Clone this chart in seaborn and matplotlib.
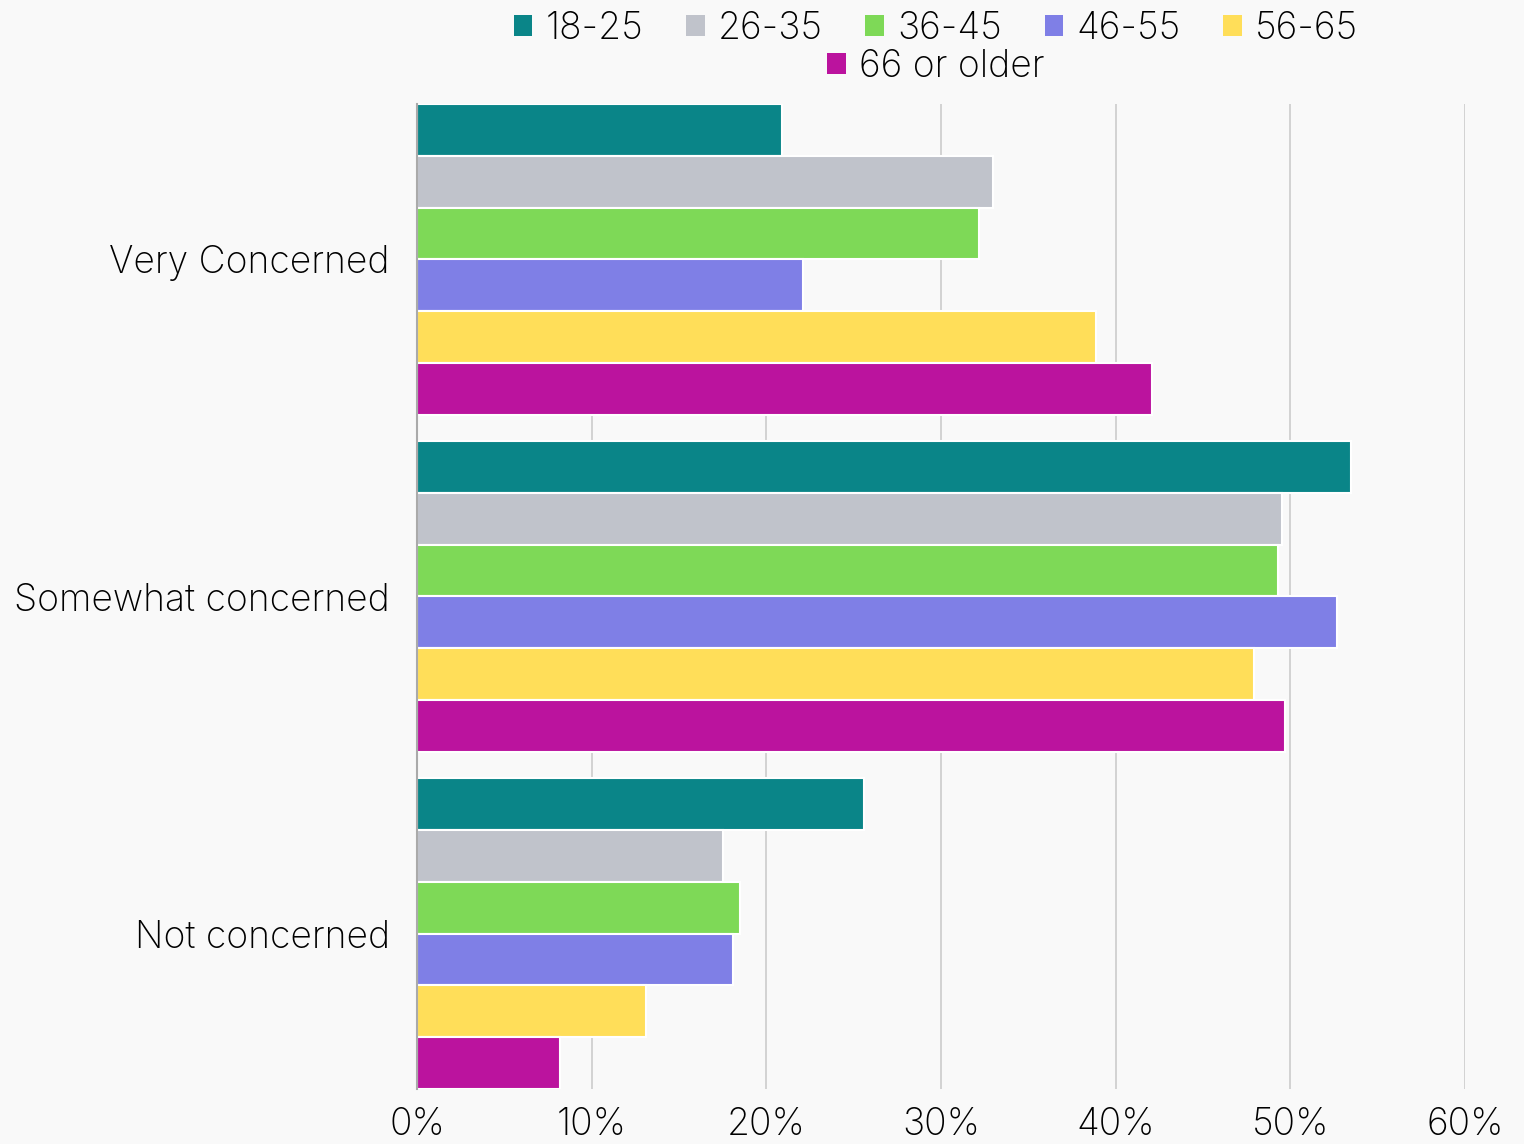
import matplotlib
matplotlib.use("Agg")
import matplotlib.pyplot as plt
from matplotlib.patches import Patch
import seaborn as sns
import pandas as pd

categories = ["Very Concerned", "Somewhat concerned", "Not concerned"]
age_groups = ["18-25", "26-35", "36-45", "46-55", "56-65", "66 or older"]
colors = ["#0a8588", "#c0c3cb", "#7ed957", "#7f7fe6", "#ffde59", "#bb139e"]

# percentage per concern level, one list per age group
share_18_25 = [20.9, 53.5, 25.6]
share_26_35 = [33.0, 49.5, 17.5]
share_36_45 = [32.2, 49.3, 18.5]
share_46_55 = [22.1, 52.7, 18.1]
share_56_65 = [38.9, 47.9, 13.1]
share_66_plus = [42.1, 49.7, 8.2]

x_ticks = [0, 10, 20, 30, 40, 50, 60]
x_tick_labels = ["0%", "10%", "20%", "30%", "40%", "50%", "60%"]

series = [share_18_25, share_26_35, share_36_45, share_46_55, share_56_65, share_66_plus]
rows = []
for grp, vals in zip(age_groups, series):
    for cat, v in zip(categories, vals):
        rows.append({"Concern": cat, "Age": grp, "Share": v})
df = pd.DataFrame(rows)

sns.set_theme(style="white")
plt.rcParams["font.family"] = ["Inter", "DejaVu Sans"]
plt.rcParams["font.weight"] = "light"
bg = "#f9f9f9"
ink = "#000000"
fs = 26.8

fig = plt.figure(figsize=(15.24, 11.44), dpi=100, facecolor=bg)
ax = fig.add_axes([417 / 1524, 1 - 1089 / 1144, (1465 - 417) / 1524, (1089 - 104) / 1144])
ax.set_facecolor(bg)

sns.barplot(data=df, y="Concern", x="Share", hue="Age", hue_order=age_groups,
            order=categories, palette=colors, orient="h", width=0.923,
            edgecolor="white", linewidth=1.5, saturation=1, ax=ax, legend=True)

ax.set_xlim(0, 60)
ax.set_ylim(2.4614, -0.4614)
ax.set_xticks(x_ticks)
ax.set_xticklabels(x_tick_labels, fontsize=fs, color=ink)
ax.tick_params(axis="x", length=0, pad=13)
ax.tick_params(axis="y", length=0, pad=19.5, labelsize=fs, labelcolor=ink)
for lbl in ax.get_yticklabels():
    lbl.set_va("center_baseline")
ax.set_xlabel("")
ax.set_ylabel("")
ax.grid(axis="x", color="#cccccc", linewidth=1.2)
ax.set_axisbelow(True)
for s in ["top", "right", "bottom"]:
    ax.spines[s].set_visible(False)
ax.spines["left"].set_color("#aaaaaa")
ax.spines["left"].set_linewidth(1.5)

ax.get_legend().remove()
handles = [Patch(facecolor=c, edgecolor="none") for c in colors]
leg_kw = dict(frameon=False, fontsize=fs, handlelength=0.5, handleheight=0.5,
              handletextpad=0.35, columnspacing=1.15, borderpad=0, labelcolor=ink)
leg1 = fig.legend(handles[:5], age_groups[:5], ncol=5, loc="center",
                  bbox_to_anchor=(936 / 1524, 1 - 29 / 1144), **leg_kw)
leg2 = fig.legend(handles[5:], age_groups[5:], ncol=1, loc="center",
                  bbox_to_anchor=(936 / 1524, 1 - 67 / 1144), **leg_kw)

fig.savefig("out.png", dpi=100, facecolor=bg)
